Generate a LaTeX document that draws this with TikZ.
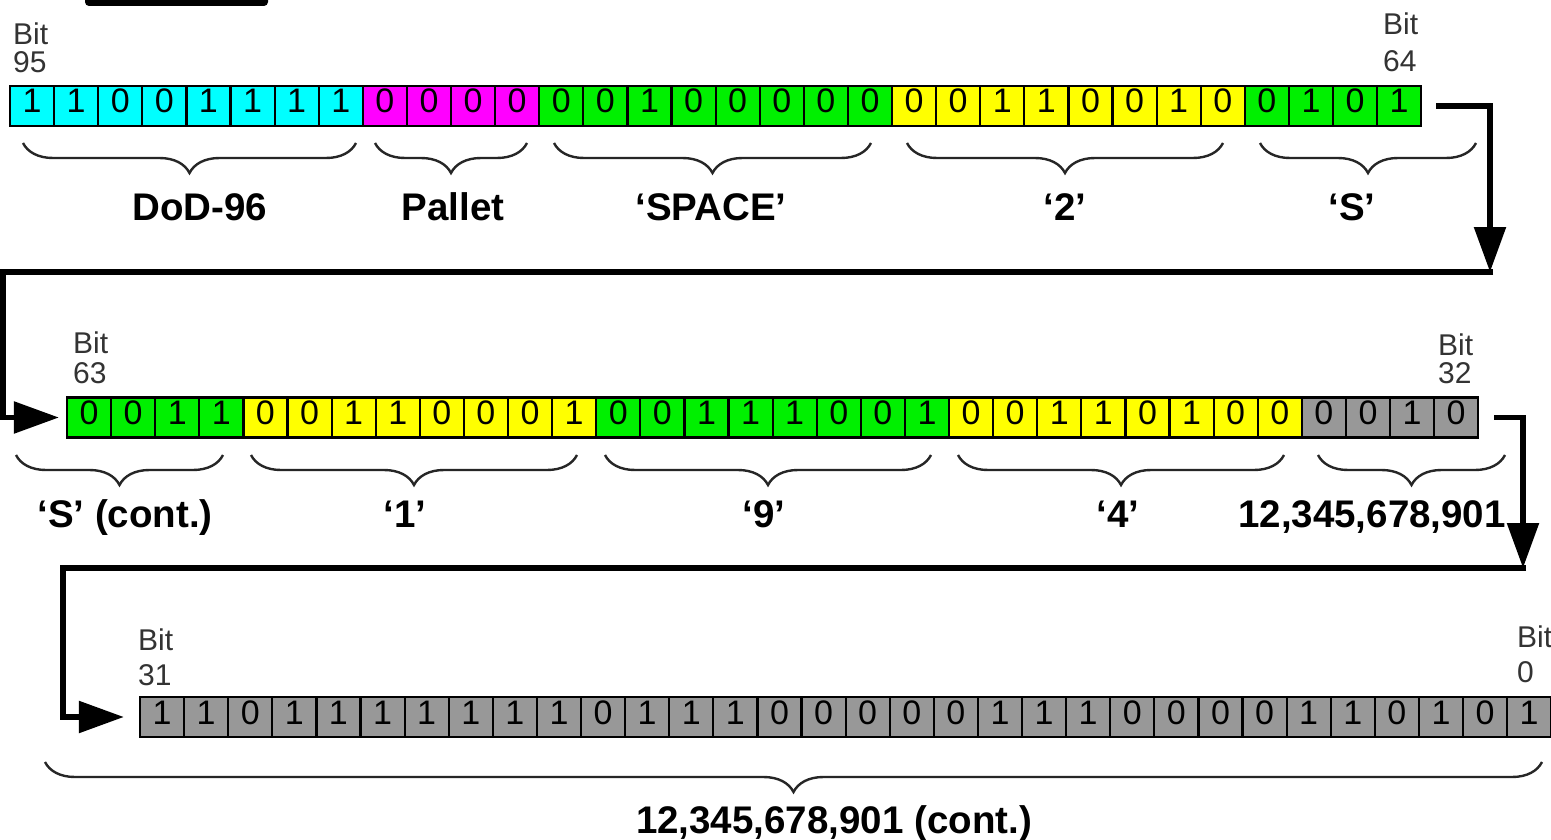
\documentclass[tikz,border=0pt]{standalone}
\usepackage{fontspec}
\setmainfont{Liberation Sans}
\usetikzlibrary{arrows.meta,decorations.pathreplacing,calc}
\definecolor{cy}{RGB}{0,255,255}
\definecolor{mg}{RGB}{255,0,255}
\definecolor{gr}{RGB}{0,240,0}
\definecolor{yl}{RGB}{255,255,0}
\definecolor{gy}{RGB}{152,152,152}
\tikzset{
 cell/.style={draw=black, line width=2.2pt, rectangle, inner sep=0pt,
   minimum width=44.1pt, minimum height=40pt,
   font=\fontsize{34}{34}\selectfont, text height=24pt, text depth=10pt},
 bitlab/.style={anchor=base west, inner sep=0pt, font=\fontsize{30}{30}\selectfont, text=black!80},
 partlab/.style={font=\bfseries\fontsize{38.5}{38.5}\selectfont, inner sep=0pt, anchor=base},
 brc/.style={decorate, decoration={brace, mirror, amplitude=30pt}, line width=2.4pt, draw=black!85},
 conn/.style={line width=5.5pt, draw=black, line join=miter},
 tipd/.style={-{Triangle[length=45pt,width=31pt]}}
}
\begin{document}
\begin{tikzpicture}[x=1pt,y=-1pt]
\clip (0,0) rectangle (1551,840);
\fill[white] (0,0) rectangle (1551,840);
% fragment of a box at the top
\fill[black, rounded corners=4pt] (85,-12) rectangle (268,6);

% row 1
\foreach \b/\c [count=\i from 0] in {1/cy,1/cy,0/cy,0/cy,1/cy,1/cy,1/cy,1/cy,0/mg,0/mg,0/mg,0/mg,0/gr,0/gr,1/gr,0/gr,0/gr,0/gr,0/gr,0/gr,0/yl,0/yl,1/yl,1/yl,0/yl,0/yl,1/yl,0/yl,0/gr,1/gr,0/gr,1/gr}
  \node[cell, fill=\c] (r1c\i) at ({10+(\i+0.5)*44.1}, 106) {\b};
% row 2
\foreach \b/\c [count=\i from 0] in {0/gr,0/gr,1/gr,1/gr,0/yl,0/yl,1/yl,1/yl,0/yl,0/yl,0/yl,1/yl,0/gr,0/gr,1/gr,1/gr,1/gr,0/gr,0/gr,1/gr,0/yl,0/yl,1/yl,1/yl,0/yl,1/yl,0/yl,0/yl,0/gy,0/gy,1/gy,0/gy}
  \node[cell, fill=\c] (r2c\i) at ({67+(\i+0.5)*44.1}, 417.5) {\b};
% row 3
\foreach \b [count=\i from 0] in {1,1,0,1,1,1,1,1,1,1,0,1,1,1,0,0,0,0,0,1,1,1,0,0,0,0,1,1,0,1,0,1}
  \node[cell, fill=gy] (r3c\i) at ({140+(\i+0.5)*44.1}, 717) {\b};

% bit labels
\node[bitlab] (b95a) at (13,45) {Bit};
\node[bitlab] (b95b) at (13,73) {95};
\node[bitlab] (b64a) at (1383,35) {Bit};
\node[bitlab] (b64b) at (1383,72) {64};
\node[bitlab] (b63a) at (73,353) {Bit};
\node[bitlab] (b63b) at (73,383) {63};
\node[bitlab] (b32a) at (1438,355) {Bit};
\node[bitlab] (b32b) at (1438,383) {32};
\node[bitlab] (b31a) at (138,650) {Bit};
\node[bitlab] (b31b) at (138,685) {31};
\node[bitlab] (b0a) at (1517,647) {Bit};
\node[bitlab] (b0b) at (1517,682) {0};

% braces
\draw[brc] (23,143) -- (356,143);
\draw[brc] (375,143) -- (527,143);
\draw[brc] (554,143) -- (871,143);
\draw[brc] (907,143) -- (1223,143);
\draw[brc] (1260,143) -- (1476,143);
\draw[brc] (16,455) -- (223,455);
\draw[brc] (251,455) -- (577,455);
\draw[brc] (605,455) -- (931,455);
\draw[brc] (958,455) -- (1284,455);
\draw[brc] (1318,455) -- (1505,455);
\draw[brc] (45,762) -- (1542,762);

% part labels
\node[partlab] (lDoD) at (200,220) {DoD-96};
\node[partlab] (lPal) at (453,220) {Pallet};
\node[partlab] (lSpc) at (711,220) {‘SPACE’};
\node[partlab] (l2) at (1065,220) {‘2’};
\node[partlab] (lS) at (1352,220) {‘S’};
\node[partlab] (lSc) at (125,527) {‘S’ (cont.)};
\node[partlab] (l1) at (405,527) {‘1’};
\node[partlab] (l9) at (764,527) {‘9’};
\node[partlab] (l4) at (1118,527) {‘4’};
\node[partlab] (lNum) at (1372,527) {12,345,678,901};
\node[partlab] (lNumc) at (834,833) {12,345,678,901 (cont.)};

% connectors
\coordinate (t1) at (1490,272);
\coordinate (c1) at (3,272);
\draw[conn, tipd] ($(r1c31.east)+(14,0)$) -| (t1);
\draw[conn, tipd] ($(t1)+(3,0)$) -- (c1) |- ($(r2c0.west)+(-7,0)$);
\coordinate (t2) at (1523,568);
\coordinate (c2) at (63,568);
\draw[conn, tipd] ($(r2c31.east)+(15,0)$) -| (t2);
\draw[conn, tipd] ($(t2)+(3,0)$) -- (c2) |- ($(r3c0.west)+(-15,0)$);
\end{tikzpicture}
\end{document}
